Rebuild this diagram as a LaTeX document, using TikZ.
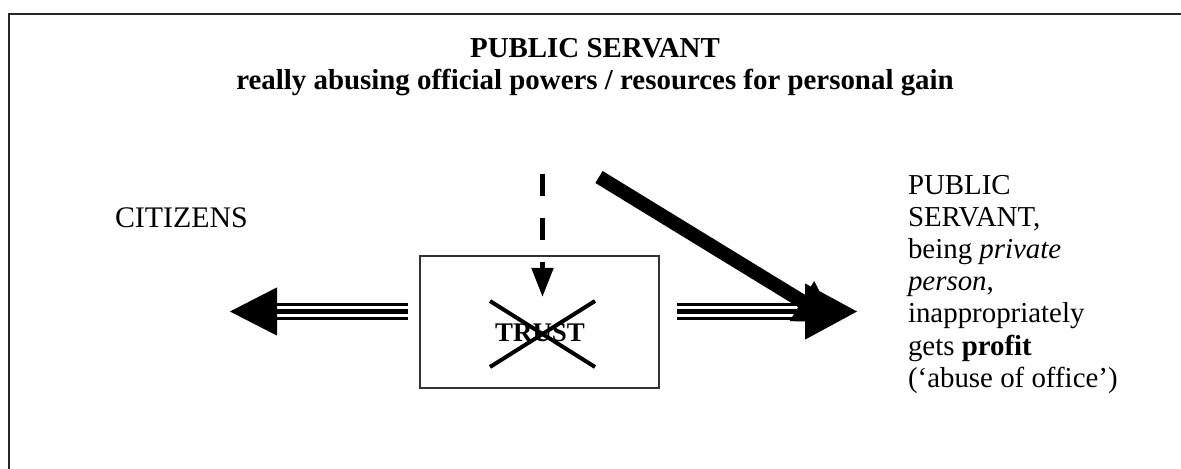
\documentclass[tikz,border=0pt]{standalone}
\usepackage{fontspec}
\setmainfont{Liberation Serif}
\usetikzlibrary{arrows.meta}
\begin{document}
\begin{tikzpicture}[x=1bp,y=-1bp,
  txt/.style={font=\fontsize{29}{32.3}\selectfont, inner sep=0pt, outer sep=0pt},
  ttl/.style={font=\fontsize{29}{32}\selectfont\bfseries, inner sep=0pt, outer sep=0pt},
  frameline/.style={line width=1.5bp, black!85},
  triple/.style={line width=17bp, black,
     postaction={draw=white, line width=11bp},
     postaction={draw=black, line width=5bp}},
  bighead/.style={line width=1bp, -{Triangle[length=47bp,width=48bp]}},
  bighead2/.style={line width=1bp, -{Triangle[length=52bp,width=56bp]}},
  crossline/.style={line width=4bp, black},
  dashedarrow/.style={line width=5bp, dash pattern=on 22bp off 22bp, -{Triangle[length=29bp,width=21bp]}},
  diagarrow/.style={line width=14bp, -{Triangle[length=40bp,width=44bp]}}
]
\useasboundingbox (0,0) rectangle (1181,469);
% frame
\coordinate (fbl) at (9,469);
\coordinate (ftl) at (9,14);
\coordinate (ftr) at (1181,14);
\draw[frameline] (fbl) -- (ftl) -- (ftr);

% titles
\node[ttl, anchor=base] (t1) at (595,58) {PUBLIC SERVANT};
\node[ttl, anchor=base] (t2) at (595,90) {really abusing official powers / resources for personal gain};

% left and right texts
\node[txt, font=\fontsize{30}{34}\selectfont, anchor=base west] (cit) at (115,228) {CITIZENS};
\node[txt, anchor=north west, align=left] (ps) at (908,175)
  {PUBLIC\\SERVANT,\\being \textit{private}\\\textit{person},\\inappropriately\\gets \textbf{profit}\\(`abuse of office')};

% trust box
\node[draw=black!80, line width=1.5bp, minimum width=239bp, minimum height=132bp, inner sep=0pt] (box) at (539.5,322) {};
\node[ttl, font=\fontsize{27}{32}\selectfont\bfseries, anchor=base] (trust) at (540,342) {TRUST};
\coordinate (xa) at (490,301);
\coordinate (xb) at (595,367);
\coordinate (xc) at (490,367);
\coordinate (xd) at (595,301);
\draw[crossline] (xa) -- (xb);
\draw[crossline] (xc) -- (xd);

% dashed arrow into the box
\coordinate (dtop) at (542.5,174);
\coordinate (dtip) at (542.5,297);
\draw[dashedarrow] (dtop) -- (dtip);

% left triple arrow
\coordinate (lA) at (408,311.5);
\coordinate (lB) at (277,311.5);
\coordinate (lC) at (230,311.5);
\draw[triple] (lA) -- (lB);
\draw[bighead] (lB) -- (lC);

% right triple arrow
\coordinate (rA) at (677,311.5);
\coordinate (rB) at (805,311.5);
\coordinate (rC) at (857,311.5);
\draw[triple] (rA) -- (rB);
\draw[bighead2] (rB) -- (rC);

% diagonal thick arrow
\coordinate (gA) at (599,177);
\coordinate (gB) at (836,322);
\draw[diagarrow] (gA) -- (gB);
\end{tikzpicture}
\end{document}
